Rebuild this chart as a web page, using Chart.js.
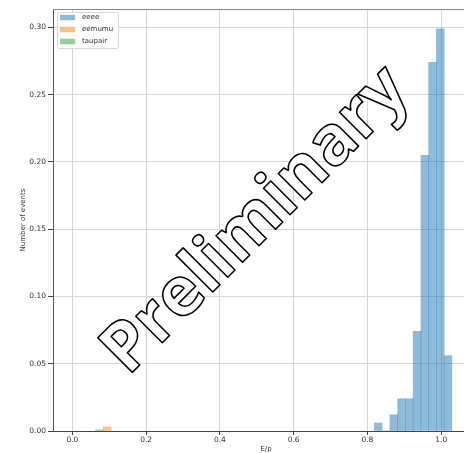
<!DOCTYPE html>
<html lang="en">
  <head>
    <meta charset="UTF-8" />
    <title>E/p</title>
    <script src="https://cdn.jsdelivr.net/npm/chart.js"></script>
    <style>
      html,
      body {
        margin: 0;
        padding: 0;
        background: #ffffff;
        overflow: hidden;
      }
      #wrap {
        width: 479px;
        height: 458px;
      }
    </style>
  </head>
  <body>
    <div id="wrap">
      <canvas id="chart" width="479" height="458"></canvas>
    </div>

    <script>
      // histogram bins (centres, width 0.021) and normalised counts
      var eeeeX = [0.8295, 0.8505, 0.8715, 0.8925, 0.9135, 0.9345, 0.9555, 0.9765, 0.9975, 1.0185];
      var eeeeY = [0.006, 0, 0.012, 0.024, 0.024, 0.074, 0.205, 0.274, 0.299, 0.056];
      var eemumuX = [0.0945];
      var eemumuY = [0.003];
      var taupairX = [0.0735];
      var taupairY = [0.0008];

      var seriesNames = ["eeee", "eemumu", "taupair"];
      var xTicks = [0.0, 0.2, 0.4, 0.6, 0.8, 1.0];
      var yTicks = [0.0, 0.05, 0.1, 0.15, 0.2, 0.25, 0.3];

      function toPoints(xs, ys) {
        return xs.map(function (x, i) {
          return { x: x, y: ys[i] };
        });
      }

      var tickFont = { family: "DejaVu Sans", size: 7.5 };

      // watermark drawn over the grid, fitted to its ink span along the diagonal
      var watermark = {
        id: "watermark",
        afterDatasetsDraw: function (chart) {
          var ctx = chart.ctx;
          var text = "Preliminary";
          ctx.save();
          ctx.font = "bold 72px 'Open Sans'";
          var m = ctx.measureText(text);
          var size = (72 * 396) / (m.actualBoundingBoxLeft + m.actualBoundingBoxRight);
          ctx.font = "bold " + size.toFixed(1) + "px 'Open Sans'";
          m = ctx.measureText(text);
          ctx.translate(252.4, 252.4);
          ctx.rotate(-Math.PI / 4);
          ctx.textAlign = "left";
          ctx.textBaseline = "alphabetic";
          var x0 = -170 + m.actualBoundingBoxLeft;
          ctx.fillStyle = "#ffffff";
          ctx.fillText(text, x0, 0);
          ctx.lineWidth = 1.6;
          ctx.strokeStyle = "#000000";
          ctx.lineJoin = "round";
          ctx.strokeText(text, x0, 0);
          ctx.restore();
        },
      };

      // top spine + legend inside the axes
      var frameLegend = {
        id: "frameLegend",
        afterDraw: function (chart) {
          var ctx = chart.ctx;
          var a = chart.chartArea;
          ctx.save();
          ctx.strokeStyle = "#888888";
          ctx.lineWidth = 1;
          ctx.beginPath();
          ctx.moveTo(a.left, a.top + 0.5);
          ctx.lineTo(a.right, a.top + 0.5);
          ctx.stroke();

          ctx.beginPath();
          ctx.roundRect(57.5, 12.5, 61, 36, 2);
          ctx.fillStyle = "rgba(255,255,255,0.8)";
          ctx.fill();
          ctx.strokeStyle = "#d6d6d6";
          ctx.stroke();

          ctx.font = "7px 'DejaVu Sans'";
          ctx.textBaseline = "middle";
          chart.data.datasets.forEach(function (ds, i) {
            var cy = 17.5 + i * 12;
            ctx.fillStyle = ds.backgroundColor;
            ctx.fillRect(60, cy - 2.75, 15, 5.5);
            ctx.fillStyle = "#333333";
            ctx.fillText(ds.label, 82, cy);
          });
          ctx.restore();
        },
      };

      var ctx = document.getElementById("chart").getContext("2d");
      var chart = new Chart(ctx, {
        type: "bar",
        data: {
          datasets: [
            {
              label: seriesNames[0],
              data: toPoints(eeeeX, eeeeY),
              backgroundColor: "rgba(31,119,180,0.5)",
            },
            {
              label: seriesNames[1],
              data: toPoints(eemumuX, eemumuY),
              backgroundColor: "rgba(255,127,14,0.5)",
            },
            {
              label: seriesNames[2],
              data: toPoints(taupairX, taupairY),
              backgroundColor: "rgba(44,160,44,0.5)",
            },
          ],
        },
        options: {
          responsive: false,
          animation: false,
          devicePixelRatio: 1,
          layout: { padding: { top: 9, left: 0, right: 0, bottom: 0 } },
          datasets: {
            bar: {
              grouped: false,
              barPercentage: 1,
              categoryPercentage: 1,
              borderWidth: 0,
            },
          },
          plugins: {
            legend: { display: false },
            tooltip: { enabled: false },
          },
          scales: {
            x: {
              type: "linear",
              offset: false,
              min: -0.0525,
              max: 1.1025,
              afterBuildTicks: function (scale) {
                scale.ticks = xTicks.map(function (v) {
                  return { value: v };
                });
              },
              afterFit: function (scale) {
                scale.height = 27;
              },
              ticks: {
                font: tickFont,
                color: "#333333",
                padding: 1,
                maxRotation: 0,
                callback: function (v) {
                  return Number(v).toFixed(1);
                },
              },
              grid: {
                offset: false,
                color: "#d6d6d6",
                tickColor: "#444444",
                tickLength: 4,
              },
              border: { color: "#444444", width: 1 },
              title: {
                display: true,
                text: "E/p",
                font: { family: "DejaVu Sans", size: 7 },
                color: "#333333",
                padding: { top: 0, bottom: 4.3 },
              },
            },
            y: {
              type: "linear",
              min: 0,
              max: 0.3137,
              afterBuildTicks: function (scale) {
                scale.ticks = yTicks.map(function (v) {
                  return { value: v };
                });
              },
              afterFit: function (scale) {
                scale.width = 53;
              },
              ticks: {
                font: tickFont,
                color: "#333333",
                padding: 2,
                callback: function (v) {
                  return Number(v).toFixed(2);
                },
              },
              grid: {
                color: "#d6d6d6",
                tickColor: "#444444",
                tickLength: 5,
              },
              border: { color: "#555555", width: 1 },
              title: {
                display: true,
                text: "Number of events",
                font: { family: "DejaVu Sans", size: 7 },
                color: "#333333",
                padding: { top: 18.8, bottom: 0 },
              },
            },
          },
        },
        plugins: [watermark, frameLegend],
      });
    </script>
  </body>
</html>
